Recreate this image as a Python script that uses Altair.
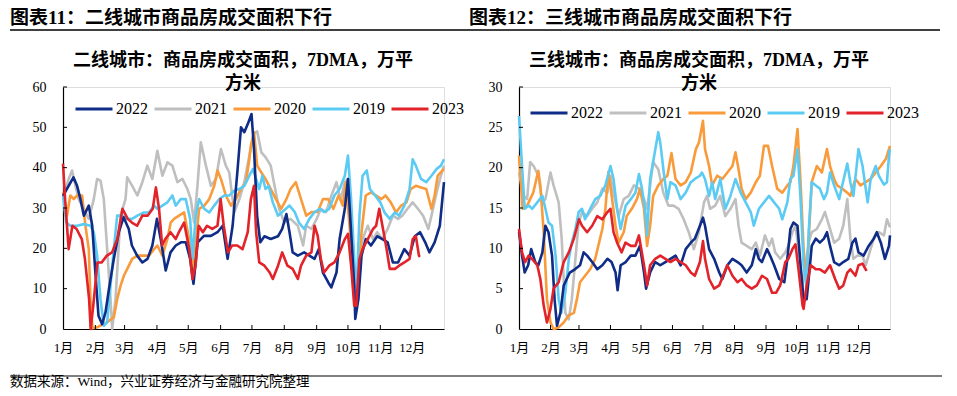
import altair as alt
import pandas as pd

# ---------------- shared categories ----------------
MONTH_STARTS = [0, 31, 59, 90, 120, 151, 181, 212, 243, 273, 304, 334]
MONTH_LABELS = ["1月", "2月", "3月", "4月", "5月", "6月", "7月", "8月", "9月", "10月", "11月", "12月"]
YEARS = ["2022", "2021", "2020", "2019", "2023"]
COLORS = ["#0F2C86", "#BFBFBF", "#F99B3B", "#5CCBF4", "#E2232A"]
DRAW_ORDER = ["2021", "2020", "2019", "2022", "2023"]

HEADER_1 = "图表11：二线城市商品房成交面积下行"
HEADER_2 = "图表12：三线城市商品房成交面积下行"
TITLE_1 = ["二线城市：商品房成交面积，7DMA，万平", "方米"]
TITLE_2 = ["三线城市：商品房成交面积，7DMA，万平", "方米"]
SOURCE = "数据来源：Wind，兴业证券经济与金融研究院整理"

# ---------------- panel 1: tier-2 cities (day of year, value) ----------------
T2_2022_DAY = [0, 10, 13.5, 16.7, 20, 24.7, 28, 31, 34, 37.5, 40.7, 44, 48.7, 53.5, 58, 63, 66, 71, 76, 81, 85.6, 90, 93.6, 98.4, 103, 108, 113, 117.6, 121.8, 125, 129, 135, 141.7, 148, 153, 157.7, 162.5, 167, 170.5, 173.7, 177, 180.6, 183, 186, 189, 193, 199, 206, 210, 214, 217, 220, 225, 231, 236, 241, 245, 249, 254, 257, 262, 265, 270, 273, 276, 279, 280, 283, 286, 290, 295, 301, 306, 311, 316, 321, 327, 332, 337, 342, 347, 351, 356, 361, 365]
T2_2022_VAL = [33, 37.6, 35.5, 32.2, 28.1, 30.6, 25.6, 14, 3.3, 1.2, 4.1, 9.9, 17.4, 24, 27.7, 24.8, 20.7, 18.2, 16.5, 17.4, 20.7, 27.3, 22.3, 14.5, 19, 20.7, 21.5, 21.5, 17.4, 11.2, 21.5, 23.1, 23.1, 24, 25.6, 17.4, 25.6, 38.8, 50, 48.8, 50.8, 53.3, 44.6, 28, 21.5, 23, 22.3, 23, 24.8, 28.5, 24, 19, 18.2, 19, 18.2, 17.4, 19.8, 14, 11.6, 10.3, 14, 22.3, 29.8, 37.2, 24, 10.7, 2.5, 7.4, 18.2, 22.3, 20.7, 23, 22.3, 21.5, 16.5, 16.5, 19.8, 18.2, 23, 24, 21.5, 19, 21.5, 25.6, 36.4]

T2_2021_DAY = [0, 5.4, 8.7, 11.9, 15, 19.9, 24.7, 29.5, 32.7, 35.9, 39.1, 42.3, 45.5, 47.1, 50.3, 55.1, 59.9, 61.5, 66.3, 71.2, 76, 80.8, 85.6, 90.4, 95.2, 100, 104.8, 109.6, 114.4, 119.2, 122.4, 125.6, 128.8, 132, 136.9, 141.7, 146.5, 151.3, 156, 159.3, 164, 169, 173.7, 178.5, 183, 186, 190, 194, 199, 202, 207, 212, 218, 225, 230, 233, 238, 243, 247, 252, 257, 262, 266, 270, 273, 276, 279, 281, 284, 287, 292, 297, 301, 306, 311, 316, 321, 325, 330, 335, 340, 345, 350, 353, 358, 362, 365]
T2_2021_VAL = [32, 37.2, 39.3, 35.5, 32.2, 29.8, 27.3, 32.2, 37.2, 36.8, 32.2, 19.8, 7.4, 0, 7.4, 28.1, 32.2, 37.6, 35.5, 33.1, 36.4, 40.5, 37.2, 44.2, 38, 41.3, 40.5, 36.4, 37.2, 34.7, 32.2, 26.4, 35.5, 46.3, 40.5, 35.5, 37.2, 44.6, 40.5, 38.8, 28.9, 32.2, 36.4, 43, 48.5, 49, 43.8, 42.6, 40.5, 36.4, 29.8, 26.4, 27.3, 25.6, 20.7, 25.6, 24.8, 27.3, 29.8, 29, 33, 36.4, 32, 36.4, 37.2, 24, 9, 5.8, 15.7, 22.3, 25.6, 22.3, 24, 22.3, 24.8, 28.1, 27.3, 28.1, 29.8, 31.4, 29.8, 28.1, 24.8, 28.1, 33.9, 38, 40.5]

T2_2020_DAY = [0, 3.8, 7, 10.3, 13.5, 18.3, 21.5, 24.7, 26.3, 28.2, 32.7, 42.3, 48.7, 51.9, 55.1, 58.3, 63.1, 66.3, 71.2, 77.6, 82.4, 87.2, 90.4, 95.2, 100, 103.2, 106.4, 111.2, 116, 120.8, 124, 127.2, 130.4, 135.3, 140.1, 144.9, 148, 151.3, 156, 160.9, 165.7, 170.5, 175.3, 178.5, 180, 183, 186, 190, 194, 199, 204, 209, 214, 218, 223, 228, 233, 238, 244, 249, 254, 259, 264, 268, 271, 275, 279, 281, 286, 290, 295, 300, 305, 309, 314, 319, 324, 329, 333, 338, 343, 348, 353, 356, 359, 365]
T2_2020_VAL = [33.9, 28.1, 33.1, 32.2, 33.1, 33.1, 25.6, 19.8, 7.4, 0.2, 0.4, 1.7, 2.9, 7.4, 10.7, 13.2, 15.7, 17.4, 18.2, 18.2, 18.2, 19.8, 20.7, 18.2, 22.3, 26.4, 27.3, 28.1, 28.9, 22.3, 14, 21.5, 29.8, 30.6, 32.2, 35.5, 39.3, 37.2, 33.1, 30.6, 32.2, 34.7, 36.4, 42.1, 45.5, 48.8, 40.5, 38.8, 37.2, 34.7, 32.2, 29.8, 32.2, 34.7, 36.4, 32.2, 28.1, 29, 29, 32.2, 32.2, 29.8, 33.1, 30.6, 36.4, 24, 7.4, 5, 24, 33.1, 33.9, 33.1, 32.2, 33.1, 31.4, 28.9, 30.6, 31.4, 34.7, 35.5, 35.1, 34.7, 29.8, 33.1, 38, 39.7]

T2_2019_DAY = [0, 3.2, 7, 13.5, 19.9, 26.3, 29.5, 32.7, 35.9, 39.1, 42.3, 45.5, 48.7, 51.9, 56.7, 61.5, 66.3, 71.2, 77.6, 82.4, 87.2, 90.4, 95.2, 100, 104.8, 108, 112.8, 117.6, 121.8, 124, 127.2, 130.4, 135.3, 140.1, 144.9, 149.7, 154.5, 159.3, 164.1, 168.9, 173.7, 178.5, 182, 185, 188, 191, 194, 197, 201, 206, 210, 217, 222, 226, 231, 236, 241, 246, 250, 255, 260, 265, 270, 273, 276, 279, 281, 284, 287, 291, 294, 299, 304, 308, 313, 318, 322, 327, 332, 335, 338, 343, 348, 353, 358, 362, 365]
T2_2019_VAL = [33, 26.4, 25.6, 25.6, 26, 25.6, 24, 18.2, 7.4, 0.8, 1.7, 10.7, 19.8, 28.1, 28.1, 27.3, 27.3, 28.1, 28.9, 28.9, 30.6, 29.8, 30.6, 31.4, 33.1, 30.6, 32.2, 32.2, 27.3, 17.5, 28.1, 32.2, 29.8, 28.9, 30.6, 32.2, 33.1, 33.1, 34.3, 34.7, 35.5, 38, 39.7, 37.2, 34.7, 38, 34.7, 35.5, 31.4, 28.1, 29, 30.6, 29, 26.4, 24.8, 27.3, 29, 29.8, 29, 29.8, 33.1, 34.7, 38, 43, 32.2, 17.4, 7.4, 28.1, 38, 39.3, 34.7, 33.1, 31.4, 28.9, 27.3, 28.9, 28.1, 30.6, 34.7, 42.1, 40.5, 37.2, 36.4, 38, 39.7, 40.5, 42.1]

T2_2023_DAY = [0, 2, 5.4, 9, 13, 18, 21, 25, 26.5, 29, 33, 37, 42, 47, 52, 57, 62, 66, 71, 76, 81, 86, 89, 92, 95, 98, 103, 108, 111, 116, 121, 124, 127, 130, 134, 138, 143, 148, 151, 154, 158, 162, 167, 172, 177, 180, 183, 185, 188, 193, 198, 201, 206, 210, 215, 220, 225, 228, 233, 238, 241, 244, 247, 250, 255, 260, 265, 270, 273, 276, 279, 281, 284, 287, 292, 297, 300, 303, 306, 310, 313, 318, 322, 327, 332, 335, 338, 341, 342]
T2_2023_VAL = [41, 32.2, 19.8, 25.6, 24.8, 22.3, 17.4, 7.4, 0, 5.8, 16.5, 16.5, 18.2, 19, 22.3, 29.8, 27.3, 26.4, 25.6, 28.1, 28.1, 29.8, 35.1, 29.8, 20.7, 22.3, 24, 22.3, 24, 26.4, 19.8, 12.4, 15.7, 25.6, 24, 25.6, 24.8, 25.6, 32.2, 25.6, 19, 20.7, 20.7, 19.8, 24, 32.2, 35.5, 24, 16.5, 15.7, 14, 12.4, 15.7, 19, 15.7, 14.9, 12.4, 15.7, 18.2, 19, 25.6, 23.1, 17.4, 14, 15.7, 16.5, 19, 22.3, 23.6, 15.7, 5.8, 5.8, 17.4, 19.8, 22.3, 24.8, 25.6, 29.8, 25.6, 19.8, 14.9, 14.9, 15.7, 16.5, 17.4, 22.3, 23.1, 18.2, 17.9]

# ---------------- panel 2: tier-3 cities (day of year, value) ----------------
T3_2022_DAY = [0, 3, 5.6, 9, 12, 16, 19, 23, 26, 29, 32.5, 35, 37.4, 40.7, 44, 47, 50, 55, 60, 63.6, 67, 72, 77, 82, 87, 91, 95, 97, 100, 105, 110, 114.5, 119, 123, 125, 129, 134, 139, 144, 149, 154, 159, 164, 169, 173, 178, 181, 183, 187, 192, 197, 200, 205, 210, 215, 219, 224, 229, 233, 236, 239, 244, 247, 251, 256, 261, 264, 267, 270, 274, 277, 280, 283, 285, 288, 292, 296, 300, 303, 306, 310, 315, 319, 324, 328, 331, 334, 339, 344, 349, 352, 356, 360, 364, 365]
T3_2022_VAL = [12, 9.1, 7, 7.9, 9.9, 8.3, 7.9, 9.5, 12.8, 12, 9.1, 3.7, 0.4, 2, 5.4, 6.2, 7, 7.4, 7.9, 9.5, 9.1, 8.3, 7.4, 7.9, 8.7, 8.3, 7, 4.8, 7.9, 8.3, 9.1, 9.1, 10.3, 7, 5, 7, 8.3, 7.9, 8.3, 8.7, 9.1, 7.9, 9.9, 10.7, 11.2, 12.8, 13.8, 12.8, 9.9, 8.7, 7, 6.2, 7.9, 8.7, 8.3, 7.9, 7, 7.9, 9.9, 8.7, 8.3, 9.9, 9.1, 7.9, 6.2, 5.8, 8.7, 12.4, 13.2, 12.8, 7.9, 3.7, 3.7, 6.2, 10.3, 11.2, 10.7, 11.2, 12, 10.3, 8.3, 7.9, 8.3, 8.7, 10.7, 11.2, 9.5, 9.1, 10.3, 11.2, 12, 10.7, 8.7, 10.3, 11.6]

T3_2021_DAY = [0, 4.6, 8, 11, 14.4, 19, 23, 26, 31, 34, 39, 42, 45.6, 49, 52, 55.5, 58.7, 62, 67, 72, 77, 82, 87, 90, 93, 98, 103, 108, 113, 118, 123, 126, 129, 132, 137, 142, 147, 152, 157, 162, 167, 172, 177, 182, 185, 188, 193, 198, 203, 208, 213, 216, 219, 224, 229, 233, 237, 242, 246, 249, 252, 257, 262, 265, 269, 272, 275, 279, 282, 285, 288, 293, 298, 301, 306, 310, 315, 319, 323, 326, 329, 333, 338, 341, 344, 349, 354, 359, 362, 365]
T3_2021_VAL = [19.4, 16.5, 16.1, 20.7, 20.2, 19, 15.7, 16.1, 19.4, 17.8, 15.7, 11.2, 2, 1.2, 3.7, 8.7, 13.2, 14.5, 14, 14.9, 15.7, 17.4, 16.9, 19, 16.9, 14, 16.1, 16.5, 17.8, 17.4, 16.1, 14.9, 17.8, 20.7, 19.8, 16.9, 15.3, 15.3, 14.9, 13.6, 12, 9.9, 12, 15.7, 16.5, 14.9, 15.3, 16.5, 14, 14.9, 16.1, 12.8, 10.7, 10.3, 9.9, 10.7, 9.1, 11.6, 10.3, 11.2, 9.5, 8.7, 9.5, 10.3, 12, 12.8, 9.9, 5.4, 7.9, 10.7, 12, 12.4, 13.6, 14.5, 12.4, 10.7, 11.2, 12.8, 16.1, 11.2, 8.7, 9.1, 9.1, 7.9, 9.1, 11.2, 12, 11.6, 13.6, 12.6]

T3_2020_DAY = [0, 3.6, 8, 11, 14, 19, 21, 24.3, 27.5, 31, 34, 39, 44, 49, 54, 57, 60, 65, 70, 75, 78, 82, 85, 88, 91.6, 95, 98, 103, 106, 111, 116, 119, 123, 126, 129, 132, 137, 142, 146, 150, 154, 159, 164, 169, 174, 177, 181, 183, 187, 190, 195, 200, 205, 210, 213, 216, 219, 223, 228, 233, 237, 241, 245, 249, 254, 259, 264, 267, 270, 274, 277, 280, 283, 285, 288, 293, 298, 303, 306, 310, 313, 318, 323, 326, 331, 336, 341, 346, 351, 356, 361, 365]
T3_2020_VAL = [21.5, 14.9, 15.3, 16.1, 16.9, 19.6, 17.8, 12, 3.7, 0.8, 0, 0.2, 0.8, 1.7, 2, 3.7, 5.8, 6.6, 7.4, 8.7, 10.3, 12.4, 14.9, 19.5, 16.1, 12.8, 10.7, 12, 14, 14.9, 16.1, 17.4, 14.9, 10.3, 12.8, 16.5, 17.8, 18.6, 19, 21.8, 18.6, 17.8, 18.2, 19.4, 22.3, 23.1, 25.8, 22.3, 20.2, 17.8, 19, 18.6, 19.4, 20.2, 21.9, 19.8, 17.4, 16.1, 16.9, 18.2, 19, 22.7, 22.7, 20.2, 17.4, 16.9, 17.8, 18.2, 20.2, 24.8, 18.2, 9.9, 5.4, 11.2, 18.2, 20.2, 19.4, 22.3, 20.2, 18.6, 17.8, 17.4, 16.9, 16.5, 18.6, 17.8, 18.2, 18.6, 19.4, 20.2, 21.1, 22.7]

T3_2019_DAY = [0, 3, 5.6, 9.5, 13, 18, 23, 26, 29, 32.5, 36, 39, 41.7, 45.6, 49, 52, 55.5, 58.7, 62, 65, 70, 75, 80, 85, 90, 93, 96.5, 100, 105, 110, 114.5, 118, 121, 124.3, 126, 129, 132.5, 137, 139, 142.4, 146, 149, 154, 159, 164, 169, 173, 178, 180, 183, 187, 190, 193, 198, 203, 208, 213, 218, 223, 228, 231, 236, 241, 246, 251, 256, 259, 264, 267, 270, 274, 277, 280, 283, 285, 288, 292, 296, 300, 303, 306, 310, 315, 318, 323, 326, 329, 334, 338, 343, 346, 351, 354, 359, 362, 364, 365]
T3_2019_VAL = [26.4, 20.2, 14.9, 15.3, 14.9, 15.7, 16.5, 14.9, 13.2, 12.8, 9.1, 3.7, 2, 4.5, 8.7, 10.7, 12.4, 14.5, 14.9, 13.6, 14.9, 16.1, 16.5, 17.8, 20.2, 18.6, 14.9, 12.4, 15.3, 16.1, 16.9, 19.2, 17.4, 14.5, 11.6, 18.6, 21.1, 24.4, 23.1, 19.4, 16.1, 18.2, 17.8, 16.1, 16.9, 18.2, 18.6, 19, 19.4, 18.6, 16.5, 18.2, 16.1, 18.6, 14.9, 16.5, 18.6, 16.9, 15.7, 14.5, 12.8, 14.9, 15.7, 16.5, 15.7, 14.9, 13.6, 15.7, 18.6, 19, 22.3, 16.1, 7.9, 5.4, 12, 18.2, 17.8, 17.4, 16.1, 16.9, 19.4, 17.8, 16.1, 17.8, 20.5, 18.2, 16.5, 22.3, 20.2, 15.7, 18.6, 20.2, 19, 17.9, 18.2, 21.5, 22.3]

T3_2023_DAY = [0, 3, 6, 9.5, 12.8, 18, 21, 24.3, 27.5, 31, 34, 39, 44, 49, 54, 59, 62, 67, 72, 77, 82, 87, 90, 93, 96.5, 101, 104.7, 110, 114.5, 118, 123, 126, 129, 134, 139, 144, 149, 154, 159, 164, 169, 173, 178, 181, 183, 187, 192, 197, 202, 205, 210, 215, 219, 224, 229, 234, 239, 244, 249, 253, 257, 262, 265, 269, 272, 275, 279, 280, 283, 287, 292, 296, 301, 306, 311, 315, 319, 323, 326, 331, 334, 338, 341, 342]
T3_2023_VAL = [12.4, 9.5, 8.3, 9.1, 8.7, 7.9, 6.2, 2.9, 0.8, 2.5, 5, 5.8, 8.3, 9.5, 11.2, 13.6, 12.8, 12, 12.8, 14, 13.6, 14.5, 14.9, 12, 10.7, 9.5, 10.7, 10.3, 10.3, 11.6, 7.9, 5.4, 7.9, 8.7, 9.1, 8.7, 8.3, 8.7, 8.3, 7.9, 7, 6.6, 8.3, 10.9, 8.7, 6.2, 5, 5.4, 7, 7.9, 6.6, 5.8, 6.2, 5.4, 5, 5.4, 6.6, 6.2, 4.5, 4.5, 5.4, 8.3, 8.7, 9.9, 10.5, 7.4, 2.9, 2.5, 5.4, 7.9, 7.4, 7.4, 7, 7.9, 6.2, 5, 5.4, 7, 7.4, 6.6, 7.9, 8.1, 7.4, 7.2]

FONT = "Liberation Serif, Noto Sans CJK SC"
PLOT_H = 242


def frame(series):
    rows = []
    for yr, (days, vals) in series.items():
        for d, v in zip(days, vals):
            rows.append({"year": yr, "day": d, "value": v})
    return pd.DataFrame(rows)


ONE = pd.DataFrame({"k": [0]})


def text(txt, x, y, size, weight="normal", align="left", baseline="alphabetic"):
    return alt.Chart(ONE).mark_text(
        text=txt, font=FONT, fontSize=size, fontWeight=weight,
        align=align, baseline=baseline, color="black",
    ).encode(x=alt.value(x), y=alt.value(y))


def hrule(x1, x2, y, w=1.2):
    return alt.Chart(ONE).mark_rule(color="black", strokeWidth=w).encode(
        x=alt.value(x1), x2=alt.value(x2), y=alt.value(y))


def panel(series, width, ymax, ystep, header, header_x, title, legend_x, legend_y,
          rules=False):
    df = frame(series)
    xscale = alt.Scale(domain=[0, 365], nice=False, zero=False)
    yscale = alt.Scale(domain=[0, ymax], nice=False)
    label_expr = ("[" + ",".join("'%s'" % m for m in MONTH_LABELS) + "][indexof(["
                  + ",".join(str(d) for d in MONTH_STARTS) + "], datum.value)]")
    xaxis = alt.Axis(
        values=MONTH_STARTS, labelExpr=label_expr, title=None, grid=False,
        ticks=False, domainColor="black", domainWidth=1.2, labelFont=FONT,
        labelFontSize=13, labelColor="black", labelPadding=12, labelAngle=0,
        labelOverlap=False, labelFlush=False)
    yaxis = alt.Axis(
        values=list(range(0, ymax + 1, ystep)), title=None, grid=False,
        ticks=False, domainColor="black", domainWidth=1.2, labelFont=FONT,
        labelFontSize=14, labelColor="black", labelPadding=17)
    x = alt.X("day:Q", scale=xscale, axis=xaxis)
    y = alt.Y("value:Q", scale=yscale, axis=yaxis)
    color = alt.Color("year:N", scale=alt.Scale(domain=YEARS, range=COLORS),
                      legend=alt.Legend(
                          orient="none", legendX=legend_x, legendY=legend_y,
                          direction="horizontal", title=None, symbolType="stroke",
                          symbolSize=1369, symbolStrokeWidth=3, labelFont=FONT,
                          labelFontSize=16, labelColor="black", columnPadding=0,
                          labelOffset=2, padding=0))
    layers = []
    for yr in DRAW_ORDER:
        layers.append(alt.Chart(df).transform_filter(alt.datum.year == yr)
                      .mark_line(strokeWidth=2.6, strokeJoin="round")
                      .encode(x=x, y=y, color=color))
    xt = alt.Chart(pd.DataFrame({"day": MONTH_STARTS[1:]})).mark_rule(
        color="black", strokeWidth=1).encode(
        x=x, y=alt.value(PLOT_H), y2=alt.value(PLOT_H - 4))
    yt = alt.Chart(pd.DataFrame({"value": list(range(ystep, ymax + 1, ystep))})).mark_rule(
        color="black", strokeWidth=1).encode(
        y=y, x=alt.value(0), x2=alt.value(4))
    layers += [xt, yt]
    layers.append(text(header, header_x, -63, 19, weight="bold"))
    layers.append(text(title[0], 180, -26, 18, weight="bold", align="center", baseline="middle"))
    layers.append(text(title[1], 180, -3, 18, weight="bold", align="center", baseline="middle"))
    if rules:
        layers.append(hrule(-53, 877, -57, 1.5))
        layers.append(hrule(-53, 879, 289, 1.2))
        layers.append(text(SOURCE, -53, 299, 13.5))
    return alt.layer(*layers).properties(width=width, height=PLOT_H)


p1 = panel({"2022": (T2_2022_DAY, T2_2022_VAL), "2021": (T2_2021_DAY, T2_2021_VAL),
            "2020": (T2_2020_DAY, T2_2020_VAL), "2019": (T2_2019_DAY, T2_2019_VAL),
            "2023": (T2_2023_DAY, T2_2023_VAL)},
           381, 60, 10, HEADER_1, -53, TITLE_1, 11, 2, rules=True)
p2 = panel({"2022": (T3_2022_DAY, T3_2022_VAL), "2021": (T3_2021_DAY, T3_2021_VAL),
            "2020": (T3_2020_DAY, T3_2020_VAL), "2019": (T3_2019_DAY, T3_2019_VAL),
            "2023": (T3_2023_DAY, T3_2023_VAL)},
           371, 30, 5, HEADER_2, -50, TITLE_2, 10, 6)

chart = alt.hconcat(p1, p2, spacing=75, bounds="flush").resolve_scale(
    color="independent").resolve_legend(color="independent").properties(
    padding={"left": 0, "top": 0, "right": 0, "bottom": 0}
).configure_view(strokeWidth=0).configure(background="white")

chart.save("out.html", embed_options={"renderer": "svg", "actions": False})
